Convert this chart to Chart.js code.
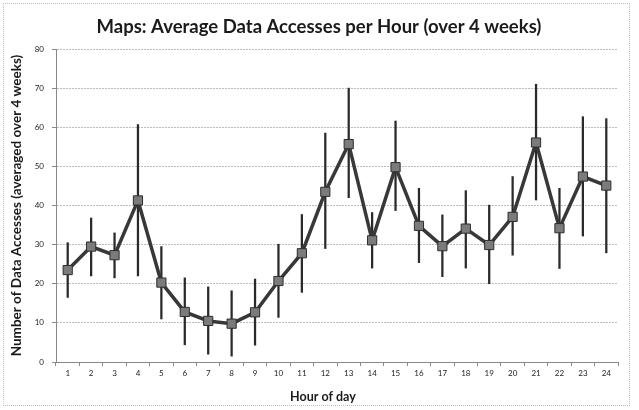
<!DOCTYPE html>
<html>
<head>
<meta charset="utf-8">
<script src="https://cdn.jsdelivr.net/npm/chart.js@4/dist/chart.umd.min.js"></script>
<style>
  html, body { margin: 0; padding: 0; background: #fff; }
  #wrap { position: relative; width: 639px; height: 410px; }
  #frame { position: absolute; left: 3px; top: 3px; width: 627px; height: 403px; border: 1px dotted #bdbdbd; box-sizing: border-box; pointer-events: none; }
</style>
</head>
<body>
<div id="wrap">
  <canvas id="c" width="639" height="410"></canvas>
  <div id="frame"></div>
</div>
<script>
const hours = ['1','2','3','4','5','6','7','8','9','10','11','12','13','14','15','16','17','18','19','20','21','22','23','24'];
const meanAccesses = [23.5, 29.5, 27.3, 41.3, 20.3, 12.8, 10.5, 9.8, 12.7, 20.7, 27.8, 43.5, 55.7, 31.1, 49.8, 34.8, 29.6, 34.1, 29.9, 37.1, 56.1, 34.2, 47.4, 45.1];
const errLow  = [16.5, 22.0, 21.5, 22.0, 11.0, 4.4, 2.0, 1.5, 4.3, 11.4, 17.8, 29.0, 42.0, 24.0, 38.7, 25.4, 21.8, 24.0, 20.0, 27.3, 41.4, 23.9, 32.2, 27.9];
const errHigh = [30.5, 36.8, 33.0, 60.7, 29.5, 21.5, 19.2, 18.2, 21.2, 30.1, 37.7, 58.5, 70.0, 38.2, 61.6, 44.4, 37.6, 43.8, 40.1, 47.4, 71.0, 44.4, 62.7, 62.2];
const yTicks = [0, 10, 20, 30, 40, 50, 60, 70, 80];
const xTitle = 'Hour of day';

const FONT = 'Lato, "Open Sans", sans-serif';

const xTitlePlugin = {
  id: 'xTitle',
  afterDraw(chart) {
    const ctx = chart.ctx;
    ctx.save();
    ctx.font = 'bold 12.5px ' + FONT;
    ctx.fillStyle = '#1a1a1a';
    ctx.textAlign = 'center';
    ctx.textBaseline = 'middle';
    ctx.fillText(xTitle, chart.width / 2 + 3.5, chart.scales.x.bottom - 9);
    ctx.restore();
  }
};

new Chart(document.getElementById('c'), {
  data: {
    labels: hours,
    datasets: [
      {
        type: 'line',
        data: meanAccesses,
        borderColor: '#383838',
        borderWidth: 3.5,
        pointStyle: 'rect',
        pointRadius: 6.5,
        pointBackgroundColor: '#7b7b7b',
        pointBorderColor: '#2e2e2e',
        pointBorderWidth: 1,
        tension: 0,
        order: 0
      },
      {
        type: 'bar',
        data: hours.map((h, i) => [errLow[i], errHigh[i]]),
        backgroundColor: '#2a2a2a',
        borderWidth: 0,
        barThickness: 1.6,
        order: 1
      }
    ]
  },
  plugins: [xTitlePlugin],
  options: {
    responsive: false,
    animation: false,
    layout: { padding: { left: 20, right: 21, top: 0, bottom: 4 } },
    plugins: {
      legend: { display: false },
      tooltip: { enabled: false },
      title: {
        display: true,
        text: 'Maps: Average Data Accesses per Hour (over 4 weeks)',
        color: '#1a1a1a',
        font: { family: FONT, size: 18.5, weight: 'bold' },
        padding: { top: 16, bottom: 10.8 }
      }
    },
    scales: {
      x: {
        offset: true,
        grid: { display: true, drawOnChartArea: false, drawTicks: true, tickLength: 4, offset: true, color: '#888' },
        border: { display: true, color: '#888', width: 1 },
        ticks: { color: '#222', font: { family: FONT, size: 8 }, padding: 3, maxRotation: 0, autoSkip: false },
        afterFit: s => { s.height = 44; }
      },
      y: {
        min: 0, max: 80,
        afterBuildTicks: s => { s.ticks = yTicks.map(v => ({ value: v })); },
        grid: { color: '#bdbdbd', lineWidth: 1, drawTicks: true, tickLength: 4, tickColor: '#888' },
        border: { display: true, color: '#888', width: 1, dash: [2, 1] },
        ticks: { color: '#222', font: { family: FONT, size: 8 }, padding: 8 },
        title: { display: true, text: 'Number of Data Accesses (averaged over 4 weeks)', color: '#1a1a1a', font: { family: FONT, size: 13.5, weight: 'bold' }, padding: { top: -11, bottom: 0 } },
        afterFit: s => { s.width = 36; }
      }
    }
  }
});
</script>
</body>
</html>
